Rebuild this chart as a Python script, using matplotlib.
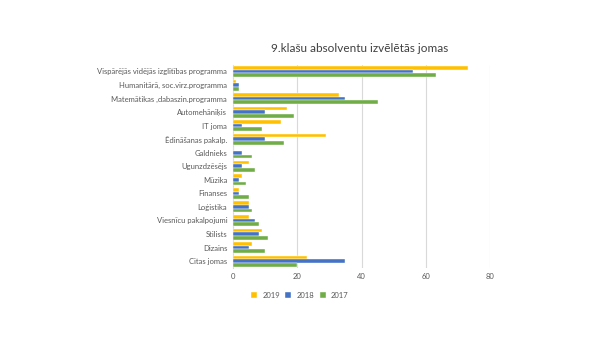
import numpy as np
import matplotlib.pyplot as plt

# dati
jomas = ["Vispārējās vidējās izglītības programma", "Humanitārā, soc.virz.programma",
         "Matemātikas ,dabaszin.programma", "Automehāniķis", "IT joma",
         "Ēdināšanas pakalp.", "Galdnieks", "Ugunzdzēsējs", "Mūzika", "Finanses",
         "Loģistika", "Viesnīcu pakalpojumi", "Stilists", "Dizains", "Citas jomas"]
v2019 = [73, 1, 33, 17, 15, 29, 0, 5, 3, 2, 5, 5, 9, 6, 23]
v2018 = [56, 2, 35, 10, 3, 10, 3, 3, 2, 2, 5, 7, 8, 5, 35]
v2017 = [63, 2, 45, 19, 9, 16, 6, 7, 4, 5, 6, 8, 11, 10, 20]
gadi = ["2019", "2018", "2017"]
krasas = ["#FFC000", "#4472C4", "#70AD47"]

plt.rcParams['font.family'] = ['Lato', 'DejaVu Sans']

fig = plt.figure(figsize=(6, 3.37), dpi=100)
ax = fig.add_axes([0.388, 0.205, 0.429, 0.603])

y = np.arange(len(jomas))
h = 0.27
for k, (vals, c, g) in enumerate(zip([v2019, v2018, v2017], krasas, gadi)):
    ax.barh(y + (k - 1) * h, vals, height=h, color=c, label=g, zorder=3,
            edgecolor='white', linewidth=0.3)

ax.set_xlim(0, 80)
ax.set_ylim(len(jomas) - 0.5, -0.5)
ax.set_xticks([0, 20, 40, 60, 80])
ax.set_yticks(y)
ax.set_yticklabels(jomas)
ax.tick_params(axis='both', length=0, labelsize=5.5, colors='#595959', pad=4)
ax.xaxis.grid(True, color='#D9D9D9', linewidth=0.8, zorder=0)
for s in ['top', 'right', 'bottom']:
    ax.spines[s].set_visible(False)
ax.spines['left'].set_color('#D9D9D9')
ax.spines['left'].set_linewidth(0.8)

fig.text(0.6, 0.857, "9.klašu absolventu izvēlētās jomas", ha='center', va='center',
         fontsize=8.5, color='#404040')

ax.legend(loc='upper center', bbox_to_anchor=(0.26, -0.085), ncol=3, frameon=False,
          fontsize=5.5, handlelength=0.8, handleheight=0.8, columnspacing=0.7,
          handletextpad=0.7, labelcolor='#595959')

fig.savefig("out.png", dpi=100)
